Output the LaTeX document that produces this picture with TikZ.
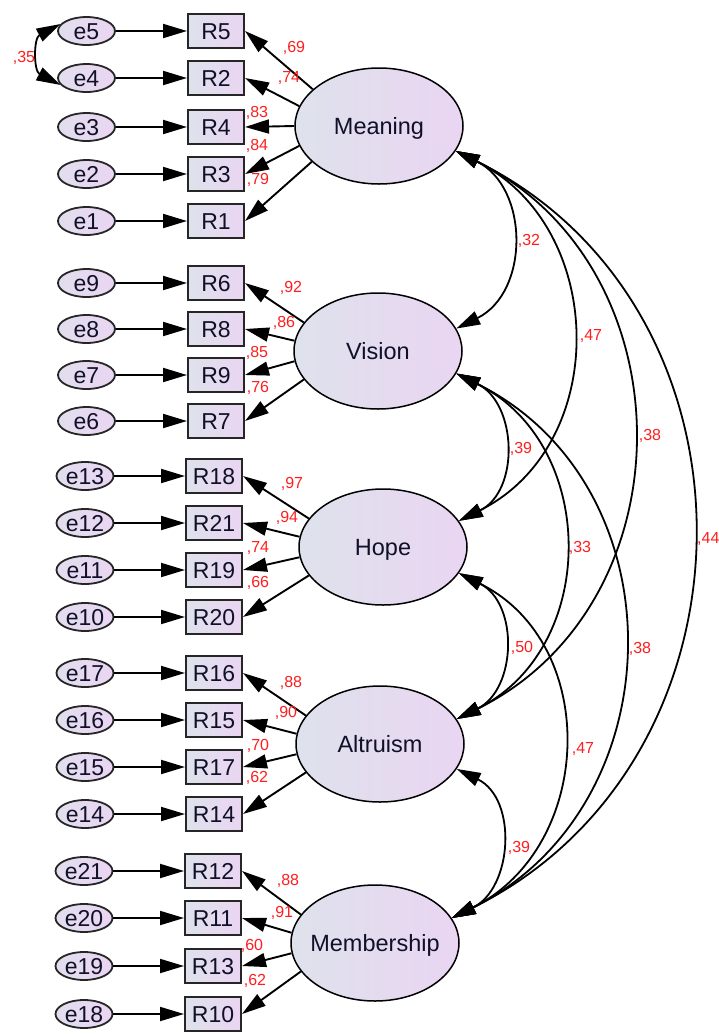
\documentclass[tikz,border=0pt]{standalone}
\usepackage{fontspec}
\setmainfont{Liberation Sans}
\usetikzlibrary{arrows.meta,shapes.geometric,calc}
\definecolor{shadeL}{HTML}{DEE2EC}
\definecolor{shadeR}{HTML}{EAD5F2}
\definecolor{lblred}{HTML}{FF1E1E}
\definecolor{ink}{HTML}{101028}
% zero-width label so ellipses keep their set size
\newcommand\lbx[1]{\makebox[0pt]{#1}}
\begin{document}
\begin{tikzpicture}[x=1pt,y=-1pt,
  >={Triangle[length=24pt,width=14pt]},
  txt/.style={font=\fontsize{23}{25}\selectfont, text=ink, text height=16.2pt, text depth=0pt},
  ind/.style={txt, rectangle, draw=black!85, line width=2pt, inner sep=0pt,
    minimum width=56pt, minimum height=34pt, left color=shadeL, right color=shadeR},
  err/.style={txt, ellipse, draw=black!85, line width=1.8pt, inner sep=0pt,
    minimum width=57pt, minimum height=28pt, left color=shadeL!70!shadeR, right color=shadeR},
  lat/.style={ellipse, draw=black, line width=1.5pt, inner sep=0pt,
    minimum width=168pt, minimum height=116pt, left color=shadeL, right color=shadeR,
    font=\fontsize{23.5}{25}\selectfont, text=ink, text height=16.6pt, text depth=0pt},
  reg/.style={->, line width=1.9pt},
  cov/.style={<->, line width=1.8pt},
  ld/.style={font=\fontsize{16}{18}\selectfont, text=lblred, inner sep=0pt,
    text height=11.5pt, text depth=0pt},
]
\useasboundingbox (0,0) rectangle (718,1034);

% ---------- latent variables ----------
\node[lat] (Mea) at (379,126) {\lbx{Meaning}};
\node[lat] (Vis) at (378,351) {\lbx{Vision}};
\node[lat] (Hop) at (383,547) {\lbx{Hope}};
\node[lat] (Alt) at (380,744) {\lbx{Altruism}};
\node[lat] (Mem) at (375,943) {\lbx{Membership}};

% ---------- Meaning block ----------
\foreach \e/\r/\y in {e5/R5/31, e4/R2/78, e3/R4/127, e2/R3/174, e1/R1/221}{
  \node[err] (\e) at (86.5,\y) {\lbx{\e}};
  \node[ind] (\r) at (216,\y) {\r};
  \draw[reg] (\e) -- (\r);
}
% ---------- Vision block ----------
\foreach \e/\r/\y in {e9/R6/283, e8/R8/329, e7/R9/375, e6/R7/421}{
  \node[err] (\e) at (86.5,\y) {\lbx{\e}};
  \node[ind] (\r) at (216,\y) {\r};
  \draw[reg] (\e) -- (\r);
}
% ---------- Hope block ----------
\foreach \e/\r/\y in {e13/R18/476, e12/R21/523, e11/R19/570, e10/R20/617}{
  \node[err] (\e) at (85,\y) {\lbx{\e}};
  \node[ind] (\r) at (214,\y) {\r};
  \draw[reg] (\e) -- (\r);
}
% ---------- Altruism block ----------
\foreach \e/\r/\y in {e17/R16/673, e16/R15/720, e15/R17/767, e14/R14/814}{
  \node[err] (\e) at (85,\y) {\lbx{\e}};
  \node[ind] (\r) at (214,\y) {\r};
  \draw[reg] (\e) -- (\r);
}
% ---------- Membership block ----------
\foreach \e/\r/\y in {e21/R12/871, e20/R11/918, e19/R13/966, e18/R10/1014}{
  \node[err] (\e) at (84,\y) {\lbx{\e}};
  \node[ind] (\r) at (213,\y) {\r};
  \draw[reg] (\e) -- (\r);
}

% ---------- factor loadings ----------
\foreach \a/\r in {151/R5, 166/R2, 180/R4, 194/R3, 208/R1}
  \draw[reg] (Mea.\a) -- (\r.east);
\foreach \a/\r in {159/R6, 173/R8, 187/R9, 201/R7}
  \draw[reg] (Vis.\a) -- (\r.east);
\foreach \a/\r in {159/R18, 173/R21, 187/R19, 201/R20}
  \draw[reg] (Hop.\a) -- (\r.east);
\foreach \a/\r in {159/R16, 173/R15, 187/R17, 201/R14}
  \draw[reg] (Alt.\a) -- (\r.east);
\foreach \a/\r in {159/R12, 173/R11, 187/R13, 201/R10}
  \draw[reg] (Mem.\a) -- (\r.east);

% loading estimates
\foreach \t/\x/\y [count=\i] in {
  {,69}/294/47, {,74}/289/77, {,83}/257/112, {,84}/257/145, {,79}/258/179,
  {,92}/291/287, {,86}/284/322, {,85}/257/352, {,76}/258/387,
  {,97}/292/483, {,94}/287/517, {,74}/258/547, {,66}/258/582,
  {,88}/291/682, {,90}/286/712, {,70}/258/745, {,62}/257/777,
  {,88}/288/880, {,91}/282/912, {,60}/252/945, {,62}/255/980}
  \node[ld] (w\i) at (\x,\y) {\t};

% ---------- error covariance ----------
\draw[cov] (e5.165) .. controls ($(e5.165)+(-27,14)$) and ($(e4.195)+(-27,-14)$) .. (e4.195);
\node[ld] (c0) at (24,57) {,35};

% ---------- factor correlations ----------
\draw[cov] (Mea.-18) .. controls ($(Mea.-18)+(73.5,36.5)$) and ($(Vis.16)+(73.5,-36.5)$) .. (Vis.16);
\draw[cov] (Mea.-18) .. controls ($(Mea.-18)+(152,76)$) and ($(Hop.19)+(152,-76)$) .. (Hop.19);
\draw[cov] (Mea.-18) .. controls ($(Mea.-18)+(234,116)$) and ($(Alt.18)+(234,-116)$) .. (Alt.18);
\draw[cov] (Mea.-18) .. controls ($(Mea.-18)+(317,157)$) and ($(Mem.18)+(317,-157)$) .. (Mem.18);
\draw[cov] (Vis.-16) .. controls ($(Vis.-16)+(61,30)$) and ($(Hop.19)+(61,-30)$) .. (Hop.19);
\draw[cov] (Vis.-16) .. controls ($(Vis.-16)+(142.5,71)$) and ($(Alt.18)+(142.5,-71)$) .. (Alt.18);
\draw[cov] (Vis.-16) .. controls ($(Vis.-16)+(225,112)$) and ($(Mem.18)+(225,-112)$) .. (Mem.18);
\draw[cov] (Hop.-19) .. controls ($(Hop.-19)+(60,30)$) and ($(Alt.18)+(60,-30)$) .. (Alt.18);
\draw[cov] (Hop.-19) .. controls ($(Hop.-19)+(142.5,71)$) and ($(Mem.18)+(142.5,-71)$) .. (Mem.18);
\draw[cov] (Alt.-18) .. controls ($(Alt.-18)+(61,30)$) and ($(Mem.18)+(61,-30)$) .. (Mem.18);

% correlation estimates
\node[ld] (c1) at (529,240) {,32};
\node[ld] (c2) at (591,335) {,47};
\node[ld] (c3) at (650,435) {,38};
\node[ld, anchor=west] (c4) at (697,538) {,44};
\node[ld] (c5) at (521,448) {,39};
\node[ld] (c6) at (580,547) {,33};
\node[ld] (c7) at (640,648) {,38};
\node[ld] (c8) at (522,647) {,50};
\node[ld] (c9) at (583,748) {,47};
\node[ld] (c10) at (519,847) {,39};
\end{tikzpicture}
\end{document}
